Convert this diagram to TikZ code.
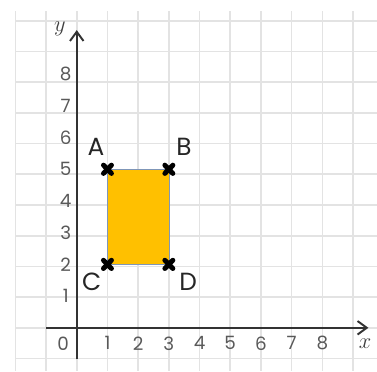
\documentclass[tikz,border=0pt]{standalone}
\usepackage{fontspec}
\newfontfamily\nhanfont{Poppins}
\usepackage{xcolor}
\usetikzlibrary{calc, arrows.meta}
\definecolor{camHCN}{HTML}{FFC000}
\definecolor{vienHCN}{HTML}{7F96B8}

\begin{document}
\begin{tikzpicture}[x=1cm, y=1.0326cm, >={Straight Barb[length=3mm, width=4.4mm]},
    soTruc/.style={text=black!65, inner sep=0pt, font=\nhanfont\fontsize{17}{17}\selectfont},
    tenDiem/.style={text=black!85, inner sep=0pt, font=\nhanfont\fontsize{23}{23}\selectfont},
    tenTruc/.style={text=black!75, inner sep=0pt, font=\fontsize{22}{22}\selectfont},
    dauX/.style={line width=4.6pt, line cap=round}]
    \useasboundingbox (-2.5,-1.37) rectangle (9.78,10.34);

    % 1. Lưới ô vuông
    \draw[black!11, line width=1.5pt] (-2,-1.37) grid (9.78,10);

    % 2. Hình chữ nhật ABDC
    \coordinate (A) at (1,5);
    \coordinate (B) at (3,5);
    \coordinate (C) at (1,2);
    \coordinate (D) at (3,2);
    \filldraw[fill=camHCN, draw=vienHCN, line width=0.6pt] (C) rectangle (B);

    % 3. Hệ trục tọa độ Ox, Oy
    \coordinate (xDau) at (-1,0);
    \coordinate (xCuoi) at (9.5,0);
    \coordinate (yDau) at (0,-1);
    \coordinate (yCuoi) at (0,9.39);
    \draw[->, line width=1.8pt, black!80] (xDau) -- (xCuoi);
    \draw[->, line width=1.8pt, black!80] (yDau) -- (yCuoi);
    \node[tenTruc] (nhanX) at (9.39,-0.5) {$x$};
    \node[tenTruc] (nhanY) at (-0.55,9.42) {$y$};

    % 4. Số trên các trục
    \node[soTruc] (so0) at (-0.44,-0.49) {0};
    \foreach \k in {1,...,8} {
        \node[soTruc] (sox\k) at (\k,-0.49) {\k};
        \node[soTruc] (soy\k) at (-0.36,\k) {\k};
    }

    % 5. Dấu x tại các đỉnh và tên đỉnh
    \foreach \p in {A,B,C,D} {
        \draw[dauX] ($(\p)+(-0.13,-0.13)$) -- ($(\p)+(0.13,0.13)$);
        \draw[dauX] ($(\p)+(-0.13,0.13)$) -- ($(\p)+(0.13,-0.13)$);
    }
    \node[tenDiem] (tenA) at (0.63,5.70) {A};
    \node[tenDiem] (tenB) at (3.49,5.70) {B};
    \node[tenDiem] (tenC) at (0.49,1.45) {C};
    \node[tenDiem] (tenD) at (3.63,1.45) {D};
\end{tikzpicture}
\end{document}
